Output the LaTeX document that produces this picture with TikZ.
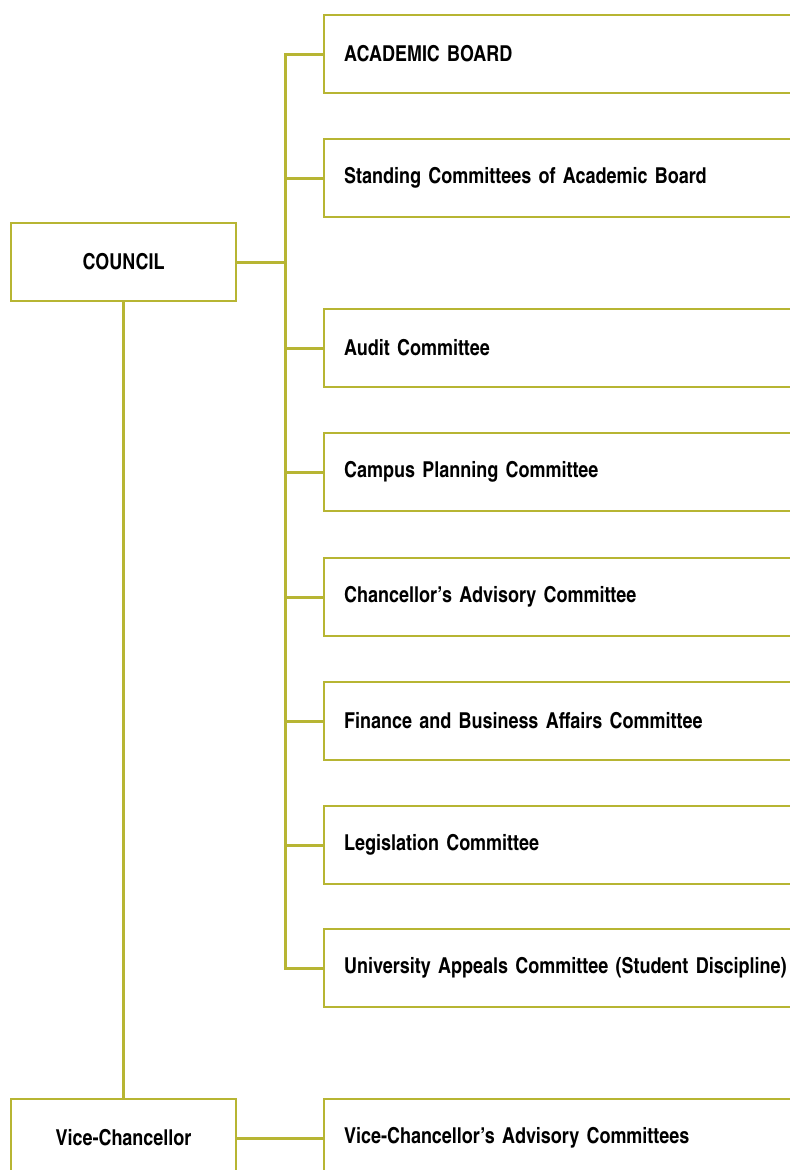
\documentclass[tikz,border=0pt]{standalone}
\usepackage{fontspec}
\setmainfont{texgyreheroscn-bold.otf}[WordSpace=0.8]
\definecolor{lineolive}{RGB}{183,181,51}
\tikzset{
	unit/.style={draw=lineolive, line width=2.2bp, minimum width=225bp, minimum height=78bp, inner sep=0pt},
	cttee/.style={draw=lineolive, line width=2.2bp, anchor=west, minimum height=78bp, text width=500bp, inner xsep=20bp, align=left},
	link/.style={draw=lineolive, line width=3bp}
}

\begin{document}
\begin{tikzpicture}[x=1bp, y=-1bp, every node/.style={font=\fontsize{22}{26}\selectfont}]
		%%%%% START %%%%%
		\clip (0, 0) rectangle (790, 1170);
		
		\node[unit] (council) at (123.5, 262) {COUNCIL};
		\node[unit] (vc) at (123.5, 1138) {Vice-Chancellor};
		
		\node[cttee] (acad) at (323, 54) {ACADEMIC BOARD};
		\node[cttee] (standing) at (323, 178) {Standing Committees of Academic Board};
		\node[cttee] (audit) at (323, 348) {Audit Committee};
		\node[cttee] (campus) at (323, 472) {Campus Planning Committee};
		\node[cttee] (chanc) at (323, 597) {Chancellor’s Advisory Committee};
		\node[cttee] (finance) at (323, 721) {Finance and Business Affairs Committee};
		\node[cttee] (legis) at (323, 845) {Legislation Committee};
		\node[cttee] (appeals) at (323, 968) {University Appeals Committee (Student Discipline)};
		\node[cttee] (vcadv) at (323, 1138) {Vice-Chancellor’s Advisory Committees};
		
		% bus line joining the council committees
		\coordinate (bus) at (285, 262);
		\draw[link] (council.east) -- (bus);
		\draw[link] (acad.west) -- (acad.west -| bus) -- (appeals.west -| bus) -- (appeals.west);
		\draw[link] (standing.west) -- (standing.west -| bus);
		\draw[link] (audit.west) -- (audit.west -| bus);
		\draw[link] (campus.west) -- (campus.west -| bus);
		\draw[link] (chanc.west) -- (chanc.west -| bus);
		\draw[link] (finance.west) -- (finance.west -| bus);
		\draw[link] (legis.west) -- (legis.west -| bus);
		
		\draw[link] (council.south) -- (vc.north);
		\draw[link] (vc.east) -- (vcadv.west);
		%%%%% END %%%%%
	\end{tikzpicture}
\end{document}
